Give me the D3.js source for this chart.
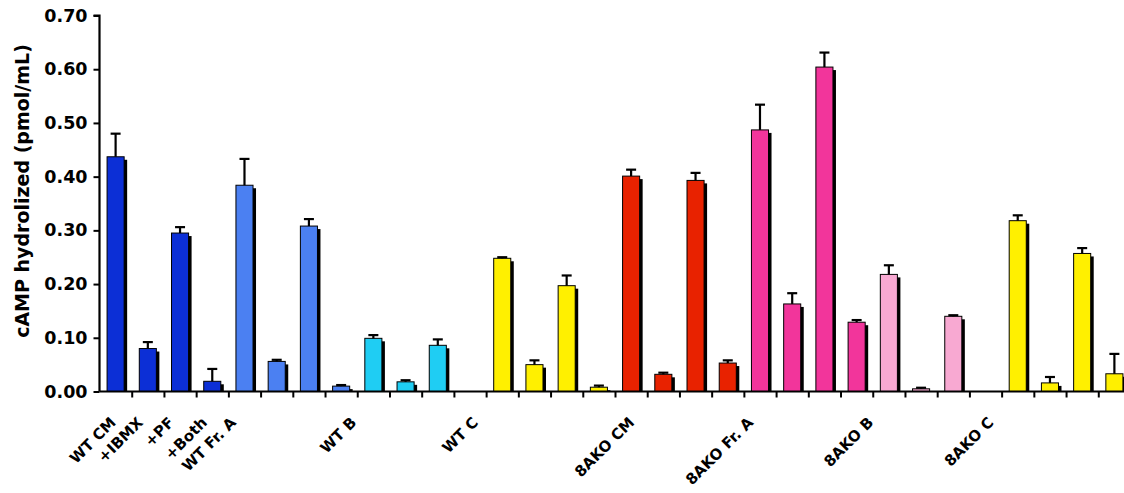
<!DOCTYPE html>
<html>
<head>
<meta charset="utf-8">
<script src="https://cdn.jsdelivr.net/npm/d3@7"></script>
<style>
  body { margin: 0; background: #fff; }
  svg { display: block; }
  text { font-family: "DejaVu Sans", Verdana, sans-serif; font-weight: bold; fill: #000; }
</style>
</head>
<body>
<div class="container"></div>
<script>
// DATA
// one entry per category slot on the x axis (null = empty slot)
const means = [
    0.437, 0.080, 0.295, 0.019,
    0.384, 0.056, 0.308, 0.010,
    0.099, 0.018, 0.086, null,
    0.248, 0.050, 0.197, 0.008,
    0.401, 0.032, 0.393, 0.053,
    0.487, 0.163, 0.604, 0.129,
    0.218, 0.005, 0.140, null,
    0.318, 0.016, 0.257, 0.033
];
const errors = [
    0.043, 0.012, 0.011, 0.023,
    0.049, 0.003, 0.013, 0.002,
    0.006, 0.003, 0.011, null,
    0.002, 0.008, 0.019, 0.003,
    0.012, 0.003, 0.014, 0.005,
    0.047, 0.020, 0.027, 0.004,
    0.017, 0.002, 0.002, null,
    0.010, 0.011, 0.010, 0.037
];
const groups = [
    "wtcm", "wtcm", "wtcm", "wtcm",
    "wta", "wta", "wta", "wta",
    "wtb", "wtb", "wtb", "none",
    "wtc", "wtc", "wtc", "wtc",
    "kocm", "kocm", "kocm", "kocm",
    "koa", "koa", "koa", "koa",
    "kob", "kob", "kob", "none",
    "koc", "koc", "koc", "koc"
];
const labelText = ["WT CM", "+IBMX", "+PF", "+Both", "WT Fr. A", "WT B", "WT C",
                   "8AKO CM", "8AKO Fr. A", "8AKO B", "8AKO C"];
const labelSlot = [0, 1, 2, 3, 4, 8, 12, 16, 20, 24, 28];
const yTicks = [0, 0.1, 0.2, 0.3, 0.4, 0.5, 0.6, 0.7];

// label nudges (fraction of a slot) so they sit like the original
const labelNudge = [0.04, -0.12, -0.16, -0.13, -0.23, -0.5, -0.72, 0.13, -0.18, -0.45, -0.72];

const colors = {
    wtcm: "#0c2fd6",
    wta: "#4b80f2",
    wtb: "#1fcdf3",
    wtc: "#fff000",
    kocm: "#e82200",
    koa: "#f2359b",
    kob: "#f8a9d2",
    koc: "#fff000",
    none: "none"
};

// dimensions
const W = 1124, H = 493;
const x0 = 99.5, x1 = 1130.5;
const yBase = 391.5, yTop = 15.5;

const svg = d3.select(".container").append("svg")
    .attr("width", W)
    .attr("height", H);

const slots = d3.range(means.length);

const xScale = d3.scaleBand()
    .domain(slots)
    .range([x0, x1])
    .paddingInner(0.47)
    .paddingOuter(0.235);

const edgeScale = d3.scaleLinear()
    .domain([0, means.length])
    .range([x0, x1]);

const yScale = d3.scaleLinear()
    .domain([0, 0.7])
    .range([yBase, yTop]);

const data = slots.map(i => ({ i, v: means[i], e: errors[i], g: groups[i] }))
    .filter(d => d.v !== null);

// shadows
svg.append("g").selectAll("rect")
    .data(data)
    .enter()
    .append("rect")
    .attr("x", d => xScale(d.i) + 3)
    .attr("y", d => yScale(d.v) + 3)
    .attr("width", xScale.bandwidth())
    .attr("height", d => Math.max(0, yBase - yScale(d.v) - 3))
    .attr("fill", "#000");

// bars
svg.append("g").selectAll("rect")
    .data(data)
    .enter()
    .append("rect")
    .attr("x", d => xScale(d.i))
    .attr("y", d => yScale(d.v))
    .attr("width", xScale.bandwidth())
    .attr("height", d => yBase - yScale(d.v))
    .attr("fill", d => colors[d.g])
    .attr("stroke", "#000")
    .attr("stroke-width", 1);

// error bars (upper only)
const err = svg.append("g")
    .attr("stroke", "#000")
    .attr("stroke-width", 2.2);

err.selectAll("line.stem")
    .data(data)
    .enter()
    .append("line")
    .attr("class", "stem")
    .attr("x1", d => xScale(d.i) + xScale.bandwidth() / 2)
    .attr("x2", d => xScale(d.i) + xScale.bandwidth() / 2)
    .attr("y1", d => yScale(d.v))
    .attr("y2", d => yScale(d.v + d.e));

err.selectAll("line.cap")
    .data(data)
    .enter()
    .append("line")
    .attr("class", "cap")
    .attr("x1", d => xScale(d.i) + xScale.bandwidth() / 2 - 5)
    .attr("x2", d => xScale(d.i) + xScale.bandwidth() / 2 + 5)
    .attr("y1", d => yScale(d.v + d.e))
    .attr("y2", d => yScale(d.v + d.e));

// y axis
const yAxis = d3.axisLeft(yScale)
    .tickValues(yTicks)
    .tickFormat(d3.format(".2f"))
    .tickSize(6)
    .tickPadding(6);

const gy = svg.append("g")
    .attr("transform", `translate(${x0}, 0)`)
    .call(yAxis);
gy.select(".domain").attr("stroke-width", 2.2).attr("d", `M-6,${yTop}H0V${yBase}`);
gy.selectAll(".tick line").attr("stroke-width", 2);
gy.selectAll(".tick text")
    .style("font-size", "17.5px")
    .attr("fill", "#000");

// x axis (ticks at slot edges)
const xAxis = d3.axisBottom(edgeScale)
    .tickValues(d3.range(1, means.length + 1))
    .tickFormat("")
    .tickSize(6);

const gx = svg.append("g")
    .attr("transform", `translate(0, ${yBase})`)
    .call(xAxis);
gx.select(".domain").attr("stroke-width", 2.2).attr("d", `M${x0},0H${x1}`);
gx.selectAll(".tick line").attr("stroke-width", 2);

// category labels, rotated 45 degrees
const labels = svg.append("g").selectAll("g")
    .data(labelText)
    .enter()
    .append("g")
    .attr("transform", (d, k) => {
        const cx = xScale(labelSlot[k]) + xScale.bandwidth() / 2 + labelNudge[k] * xScale.step();
        return `translate(${cx}, ${yBase + 32})`;
    });

labels.append("text")
    .attr("text-anchor", "end")
    .attr("transform", "rotate(-45)")
    .style("font-size", "15px")
    .text(d => d);

// y title
svg.append("text")
    .attr("text-anchor", "middle")
    .style("font-size", "19px")
    .attr("transform", `translate(29, 191) rotate(-90)`)
    .text("cAMP hydrolized (pmol/mL)");
</script>
</body>
</html>
